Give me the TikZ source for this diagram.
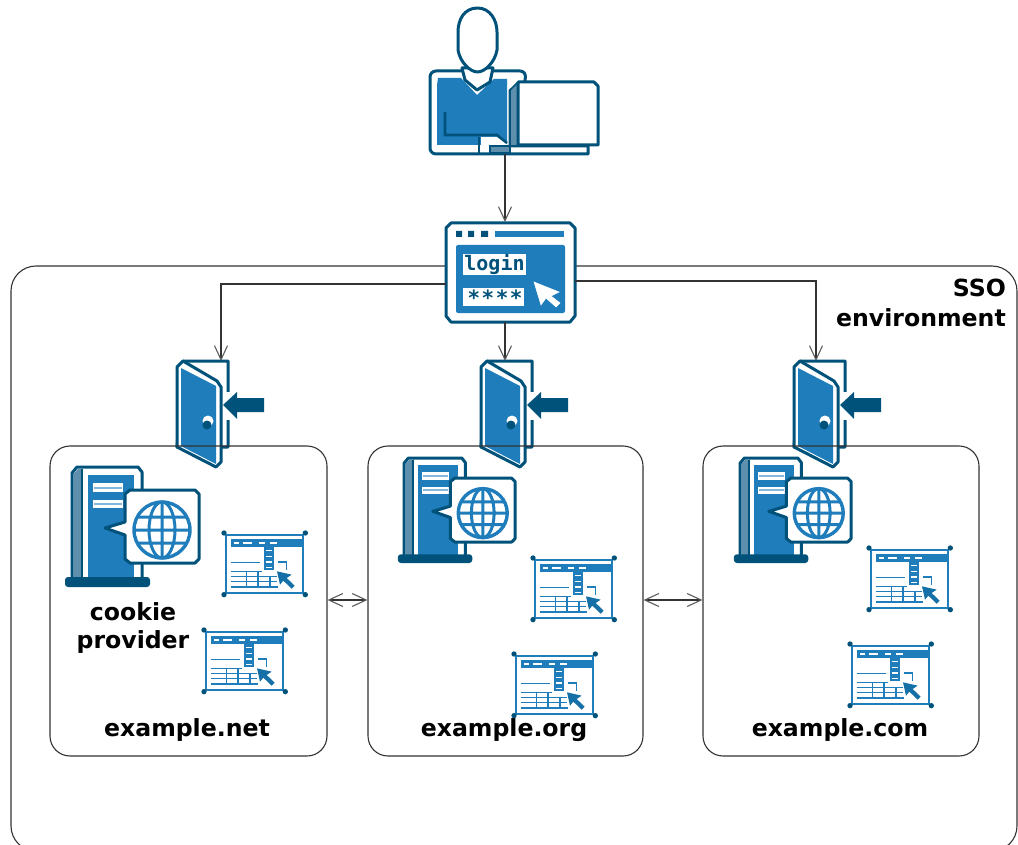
\documentclass[tikz,border=0pt]{standalone}
\usepackage{fontspec}
\setmainfont{DejaVu Sans}
\newfontfamily\lgnfont{DejaVu Sans Mono}
\newfontfamily\strfont[LetterSpace=15]{DejaVu Sans}
\usetikzlibrary{arrows.meta}
\definecolor{dk}{HTML}{00527A}
\definecolor{bl}{HTML}{1F7DBB}
\definecolor{gb}{HTML}{5E90AE}
\definecolor{ln}{HTML}{333333}
\tikzset{
  x=1pt,y=-1pt,
  ol/.style={draw=dk,line width=3pt,line join=round},
  frame/.style={draw=ln,line width=1.1pt,rounded corners=20pt},
  barb/.tip={Straight Barb[length=14pt,width=13pt,line width=1.1pt,color=ln!80!white]},
  conn/.style={draw=ln,line width=1.1pt,-{barb}},
  dconn/.style={draw=ln,line width=1.1pt,{barb}-{barb}},
  lab/.style={font=\bfseries\fontsize{23.6}{28}\selectfont,text=black,inner sep=0pt,align=center},
  anchorbox/.style={inner sep=0pt,outer sep=0pt,minimum width=#1},
  door/.pic={
    \path[ol,fill=white] (183,361) -- (228,361) -- (228,447) -- (177,447) -- cycle;
    \fill[white] (222,392) rectangle (232,420);
    \path[ol,fill=white] (177,367) -- (183,361) -- (217,381) -- (221,387) -- (221,462) -- (216,467) -- (177,447) -- cycle;
    \fill[bl] (181,368) -- (216,386) -- (216,464) -- (181,446) -- cycle;
    \fill[white] (208,421) circle (5.5);
    \fill[dk] (207,425) circle (4.5);
    \fill[dk] (223,405) -- (237,392) -- (237,398) -- (264,398) -- (264,412) -- (237,412) -- (237,419) -- cycle;
  },
  server/.pic={
    \path[ol,fill=white] (0,118) -- (0,6) -- (5,0) -- (66,0) -- (70,5) -- (70,118) -- cycle;
    \fill[gb] (1.5,7) -- (6,2) -- (10,2) -- (10,112) -- (1.5,112) -- cycle;
    \draw[dk,line width=1.6pt] (10,2) -- (10,112);
    \fill[bl] (16,8) rectangle (62,112);
    \fill[white] (21,16) rectangle (51,25);
    \fill[white] (21,33) rectangle (51,41);
    \draw[bl!55!white,line width=2pt] (22,20.5) -- (50,20.5) (22,37) -- (50,37);
    \fill[dk,rounded corners=3pt] (-7,110) rectangle (78,120);
    \path[ol,fill=white] (58,23) -- (123,23) -- (127,27) -- (127,92) -- (123,96) -- (58,96) -- (53,92) -- (53,68) -- (33,61) -- (53,55) -- (53,27) -- cycle;
    \draw[bl,line width=3.4pt] (90,63) circle (28);
    \draw[bl,line width=3pt] (90,63) ellipse (13 and 28) (90,35) -- (90,91)
      (66,50) -- (114,50) (62,63) -- (118,63) (66,76) -- (114,76);
  },
  appwin/.pic={
    \draw[bl,line width=2pt,scale=1/3] (7,7) rectangle (237,180);
    \foreach \a/\b in {0/0,244/0,0/185,244/185}{\fill[dk,scale=1/3] (\a,\b) circle (8);}
    \fill[bl,scale=1/3] (20,17) rectangle (234,42);
    \draw[white,line width=1.5pt,scale=1/3] (30,30) -- (44,30) (58,30) -- (85,30) (105,30) -- (124,30) (138,30) -- (158,30);
    \fill[bl,scale=1/3] (120,42) rectangle (150,112);
    \draw[white,line width=1.5pt,scale=1/3] (125,53) -- (143,53) (125,70) -- (143,70) (125,87) -- (143,87) (125,103) -- (143,103);
    \draw[bl,line width=1.5pt,scale=1/3] (20,88) -- (107,88) (20,115) -- (115,115) (20,130) -- (160,130) (20,145) -- (160,145) (20,162) -- (162,162)
      (67,115) -- (67,162) (102,115) -- (102,162) (138,130) -- (138,162);
    \draw[bl,line width=1.5pt,scale=1/3] (162,87) -- (187,87) -- (187,110);
    \fill[bl!70!dk,scale=1/3] (159,115) -- (203,125) -- (188,135) -- (212,158) -- (203,167) -- (178,143) -- (168,155) -- cycle;
  }
}
\begin{document}
\begin{tikzpicture}
\clip (0,0) rectangle (1018,845);
% icon anchors
\node[anchorbox=150pt,minimum height=146pt] (person) at (505,81.5) {};
\node[anchorbox=129pt,minimum height=100pt] (loginicon) at (510.5,272) {};
\node[anchorbox=14pt,minimum height=106pt] (door1) at (221,414) {};
\node[anchorbox=14pt,minimum height=106pt] (door2) at (505,414) {};
\node[anchorbox=14pt,minimum height=106pt] (door3) at (816,414) {};
% frames
\draw[frame,rounded corners=25pt] (11,266) rectangle (1017,851);
\node[lab,align=right,anchor=east] (sso) at (1006,303) {SSO\\[1.5pt]environment};
% person
\path[ol,fill=white,rounded corners=6pt] (524,90) -- (526,71) -- (430,71) -- (430,154) [sharp corners] -- (588,154) -- (588,146) -- (510,146) -- (510,90) -- cycle;
\fill[bl] (437,85) -- (438,78) -- (461,78) -- (477,95) -- (494,79) -- (507,79) -- (507,145) -- (437,145) -- cycle;
\fill[white] (481,137) -- (497,137) -- (507,144) -- (507,152) -- (481,152) -- cycle;
\draw[dk,line width=2.6pt] (445,112) -- (445,135) -- (497,135) -- (507,143);
\draw[dk,line width=2pt] (479,137) -- (479,153);
\path[draw=dk,line width=1.5pt,fill=gb] (490,146) rectangle (510,153);
\path[draw=dk,line width=1.5pt,fill=gb] (510,146) -- (510,90) -- (517,83) -- (520,83) -- (520,146) -- cycle;
\path[ol,fill=white] (518,145) -- (518,82) -- (594,82) -- (598,86) -- (598,145) -- cycle;
\path[ol,fill=white] (462,68) -- (465,80) -- (477,90) -- (490,82) -- (493,68) -- cycle;
\path[ol,fill=white] (477.5,8) .. controls (464,8) and (458,20) .. (458,32) -- (458,50) .. controls (460,62) and (470,72) .. (477.5,72) .. controls (485,72) and (495,62) .. (497,50) -- (497,32) .. controls (497,20) and (490,8) .. (477.5,8) -- cycle;
% doors
\pic at (0,0) {door};
\pic at (304,0) {door};
\pic at (617,0) {door};
% domain boxes
\node[frame,minimum width=277pt,minimum height=310pt,inner sep=0pt] (net) at (188.5,601) {};
\node[frame,minimum width=275pt,minimum height=310pt,inner sep=0pt] (org) at (505.5,601) {};
\node[frame,minimum width=276pt,minimum height=310pt,inner sep=0pt] (com) at (841,601) {};
% servers
\pic at (72,467) {server};
\pic[scale=.875] at (404,458) {server};
\pic[scale=.875] at (740,458) {server};
% applications
\pic at (224,533) {appwin};
\pic at (204,630) {appwin};
\pic at (533,558) {appwin};
\pic at (514,654) {appwin};
\pic at (869,548) {appwin};
\pic at (850,644) {appwin};
% labels
\node[lab] (cookie) at (133,628) {cookie\\provider};
\node[lab] (netl) at (187,730) {example.net};
\node[lab] (orgl) at (504,730) {example.org};
\node[lab] (coml) at (840,730) {example.com};
% login icon
\path[ol,fill=white] (451,223) -- (570,223) -- (575,228) -- (575,316) -- (570,322) -- (451,322) -- (446,316) -- (446,228) -- cycle;
\fill[dk] (456,231) rectangle (462,237) (468,231) rectangle (474,237) (481,231) rectangle (488,237);
\fill[bl] (495,231) rectangle (564,237);
\fill[bl,rounded corners=2pt] (456,245) rectangle (565,313);
\fill[white] (463,254) rectangle (526,275);
\fill[white] (463,288) rectangle (524,306);
\node[inner sep=0pt,text=dk,font=\lgnfont\bfseries\fontsize{20}{20}\selectfont] (logintext) at (494.5,264.5) {login};
\node[inner sep=0pt,text=dk,font=\strfont\bfseries\fontsize{21}{21}\selectfont] (stars) at (495,297.5) {****};
\fill[white,draw=white,line width=.5pt] (534,282) -- (559,292) -- (551,296) -- (560,303) -- (556,307) -- (546,298) -- (541,305) -- cycle;
% connectors
\draw[conn] (person.south) -- (person.south |- loginicon.north);
\draw[conn] ([yshift=-12pt]loginicon.west) -| (door1.north);
\draw[conn] ([yshift=-9pt]loginicon.east) -| (door3.north);
\draw[conn] (door2.north |- loginicon.south) -- (door2.north);
\draw[dconn] (net.east |- 0,600) -- (org.west |- 0,600);
\draw[dconn] (org.east |- 0,600) -- (com.west |- 0,600);
\end{tikzpicture}
\end{document}
